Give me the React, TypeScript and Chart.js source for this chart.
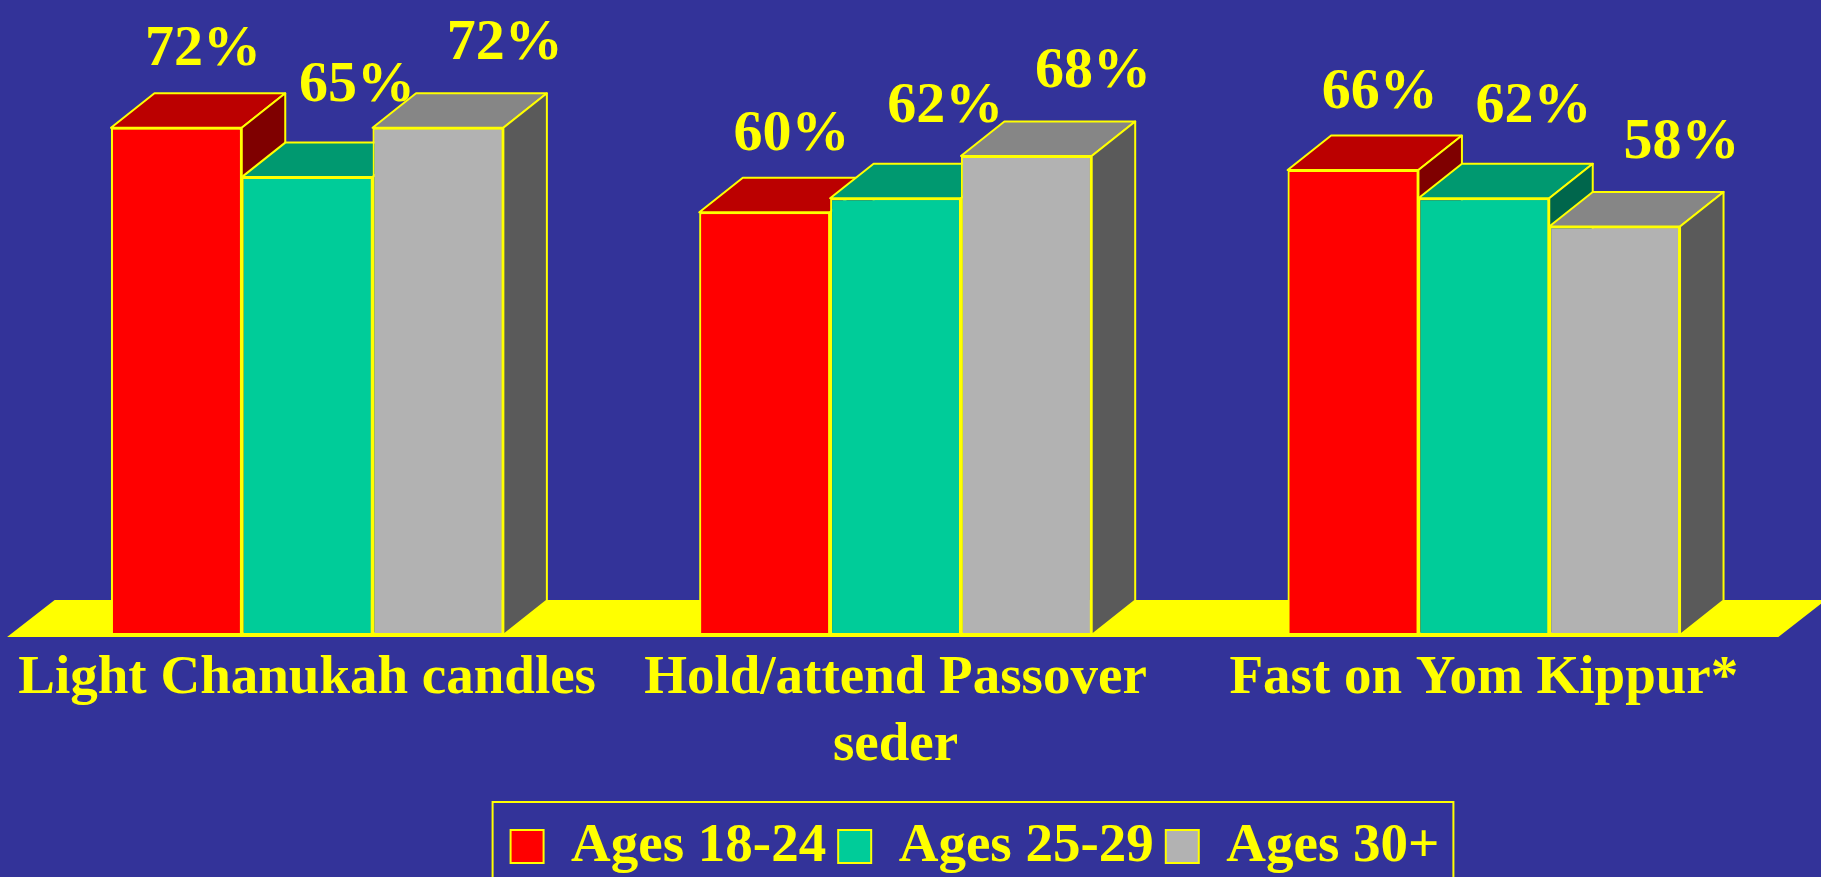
import React, { useEffect, useRef } from "react";
import { Chart, registerables } from "chart.js";

Chart.register(...registerables);

// ---- data ----
const categories: string[][] = [
  ["Light Chanukah candles"],
  ["Hold/attend Passover", "seder"],
  ["Fast on Yom Kippur*"],
];
const seriesNames = ["Ages 18-24", "Ages 25-29", "Ages 30+"];
const ages18to24 = [72, 60, 66];
const ages25to29 = [65, 62, 62];
const ages30plus = [72, 68, 58];
const seriesValues = [ages18to24, ages25to29, ages30plus];

// ---- styles ----
const BG = "#333399";
const YELLOW = "#FFFF00";
const FRONT = ["#FF0000", "#00CC99", "#B2B2B2"];
const TOP = ["#BB0000", "#009970", "#868686"];
const SIDE = ["#7F0000", "#00664C", "#5A5A5A"];
const FONT = "'Liberation Serif', 'Times New Roman', Times, serif";
const DX = 43.5;
const DY = -34.5;
const FLOOR_DX = 45;
const FLOOR_DY = -35;
const LABEL_SHIFT = [5, 28, 45];
const LABEL_GAP = [28, 42, 34];
const LEGEND_CENTER = 975;
const LEGEND_PAD = 12;

const threeD = {
  id: "threeD",
  afterLayout(chart: any) {
    const lg = chart.legend;
    if (!lg || !lg.lineWidths) return;
    const pad = lg.options.labels.padding;
    const start = (lg.left + pad + lg.right - lg.lineWidths[0]) / 2;
    const rowW = lg.lineWidths[0] - pad;
    const shift = LEGEND_CENTER - (start + rowW / 2);
    lg.left += shift;
    lg.right += shift;
  },
  beforeDatasetsDraw(chart: any) {
    const { ctx, chartArea } = chart;
    const l = chartArea.left - 3;
    const r = chartArea.right;
    const b = chartArea.bottom + 1;
    ctx.save();
    ctx.fillStyle = YELLOW;
    ctx.strokeStyle = YELLOW;
    ctx.lineWidth = 2;
    ctx.beginPath();
    ctx.moveTo(l, b);
    ctx.lineTo(r, b);
    ctx.lineTo(r + FLOOR_DX, b + FLOOR_DY);
    ctx.lineTo(l + FLOOR_DX, b + FLOOR_DY);
    ctx.closePath();
    ctx.fill();
    ctx.stroke();
    ctx.restore();
  },
  afterDatasetsDraw(chart: any) {
    const { ctx } = chart;
    const metas = seriesValues.map((_, i) => chart.getDatasetMeta(i));
    const n = categories.length;
    for (let j = 0; j < n; j++) {
      for (let i = 0; i < metas.length; i++) {
        const bar = metas[i].data[j];
        if (!bar) continue;
        const { x, y, base, width } = bar.getProps(["x", "y", "base", "width"], true);
        const L = x - width / 2;
        const R = x + width / 2;
        ctx.save();
        ctx.strokeStyle = YELLOW;
        ctx.lineWidth = 2;
        ctx.lineJoin = "round";
        // top face
        ctx.fillStyle = TOP[i];
        ctx.beginPath();
        ctx.moveTo(L, y);
        ctx.lineTo(R, y);
        ctx.lineTo(R + DX, y + DY);
        ctx.lineTo(L + DX, y + DY);
        ctx.closePath();
        ctx.fill();
        ctx.stroke();
        // side face
        ctx.fillStyle = SIDE[i];
        ctx.beginPath();
        ctx.moveTo(R, y);
        ctx.lineTo(R + DX, y + DY);
        ctx.lineTo(R + DX, base + DY);
        ctx.lineTo(R, base);
        ctx.closePath();
        ctx.fill();
        ctx.stroke();
        ctx.restore();
        // front face redrawn on top
        bar.draw(ctx);
      }
    }
  },
  afterDraw(chart: any) {
    const { ctx } = chart;
    // value labels
    ctx.save();
    ctx.fillStyle = YELLOW;
    ctx.font = `bold 58px ${FONT}`;
    ctx.textAlign = "center";
    ctx.textBaseline = "alphabetic";
    seriesValues.forEach((vals, i) => {
      const meta = chart.getDatasetMeta(i);
      vals.forEach((v, j) => {
        const bar = meta.data[j];
        if (!bar) return;
        const { x, y } = bar.getProps(["x", "y"], true);
        ctx.fillText(`${v}%`, x + DX / 2 + LABEL_SHIFT[i], y + DY - LABEL_GAP[i]);
      });
    });
    ctx.restore();
    // legend frame
    const lg = chart.legend;
    const hb = lg && lg.legendHitBoxes;
    if (hb && hb.length) {
      const first = hb[0];
      const last = hb[hb.length - 1];
      const left = first.left - 18;
      const right = last.left + last.width + 14;
      const top = first.top - 17;
      ctx.save();
      ctx.strokeStyle = YELLOW;
      ctx.lineWidth = 2;
      ctx.strokeRect(left, top, right - left, chart.height + 20 - top);
      ctx.restore();
    }
  },
};

export default function App() {
  const ref = useRef<HTMLCanvasElement>(null);
  useEffect(() => {
    const canvas = ref.current;
    if (!canvas) return;
    const chart = new Chart(canvas, {
      type: "bar",
      data: {
        labels: categories,
        datasets: seriesNames.map((name, i) => ({
          label: name,
          data: seriesValues[i],
          backgroundColor: FRONT[i],
          borderColor: YELLOW,
          borderWidth: 2,
          borderSkipped: false,
          categoryPercentage: 0.667,
          barPercentage: 1,
        })),
      },
      options: {
        responsive: false,
        animation: false,
        devicePixelRatio: 1,
        events: [],
        layout: { padding: { left: 13, right: 43, top: 1, bottom: 0 } },
        scales: {
          x: {
            grid: { display: false, drawTicks: false },
            border: { display: false },
            ticks: {
              color: YELLOW,
              font: { family: FONT, size: 55, weight: "bold", lineHeight: 1.21 },
              padding: 11,
              autoSkip: false,
              maxRotation: 0,
              minRotation: 0,
            },
            afterFit: (s: any) => {
              s.height = 172;
            },
          },
          y: { display: false, min: 0, max: 90 },
        },
        plugins: {
          legend: {
            position: "bottom",
            labels: {
              color: YELLOW,
              font: { family: FONT, size: 55, weight: "bold" },
              boxWidth: 33,
              boxHeight: 33,
              padding: LEGEND_PAD,
              sort: (a: any, b: any) => a.datasetIndex - b.datasetIndex,
            },
          },
          tooltip: { enabled: false },
        },
      } as any,
      plugins: [threeD as any],
    });
    return () => chart.destroy();
  }, []);
  return (
    <div
      style={{
        position: "fixed",
        left: 0,
        top: 0,
        width: 1821,
        height: 877,
        overflow: "hidden",
        background: BG,
      }}
    >
      <canvas ref={ref} width={1821} height={884} style={{ display: "block" }} />
    </div>
  );
}
